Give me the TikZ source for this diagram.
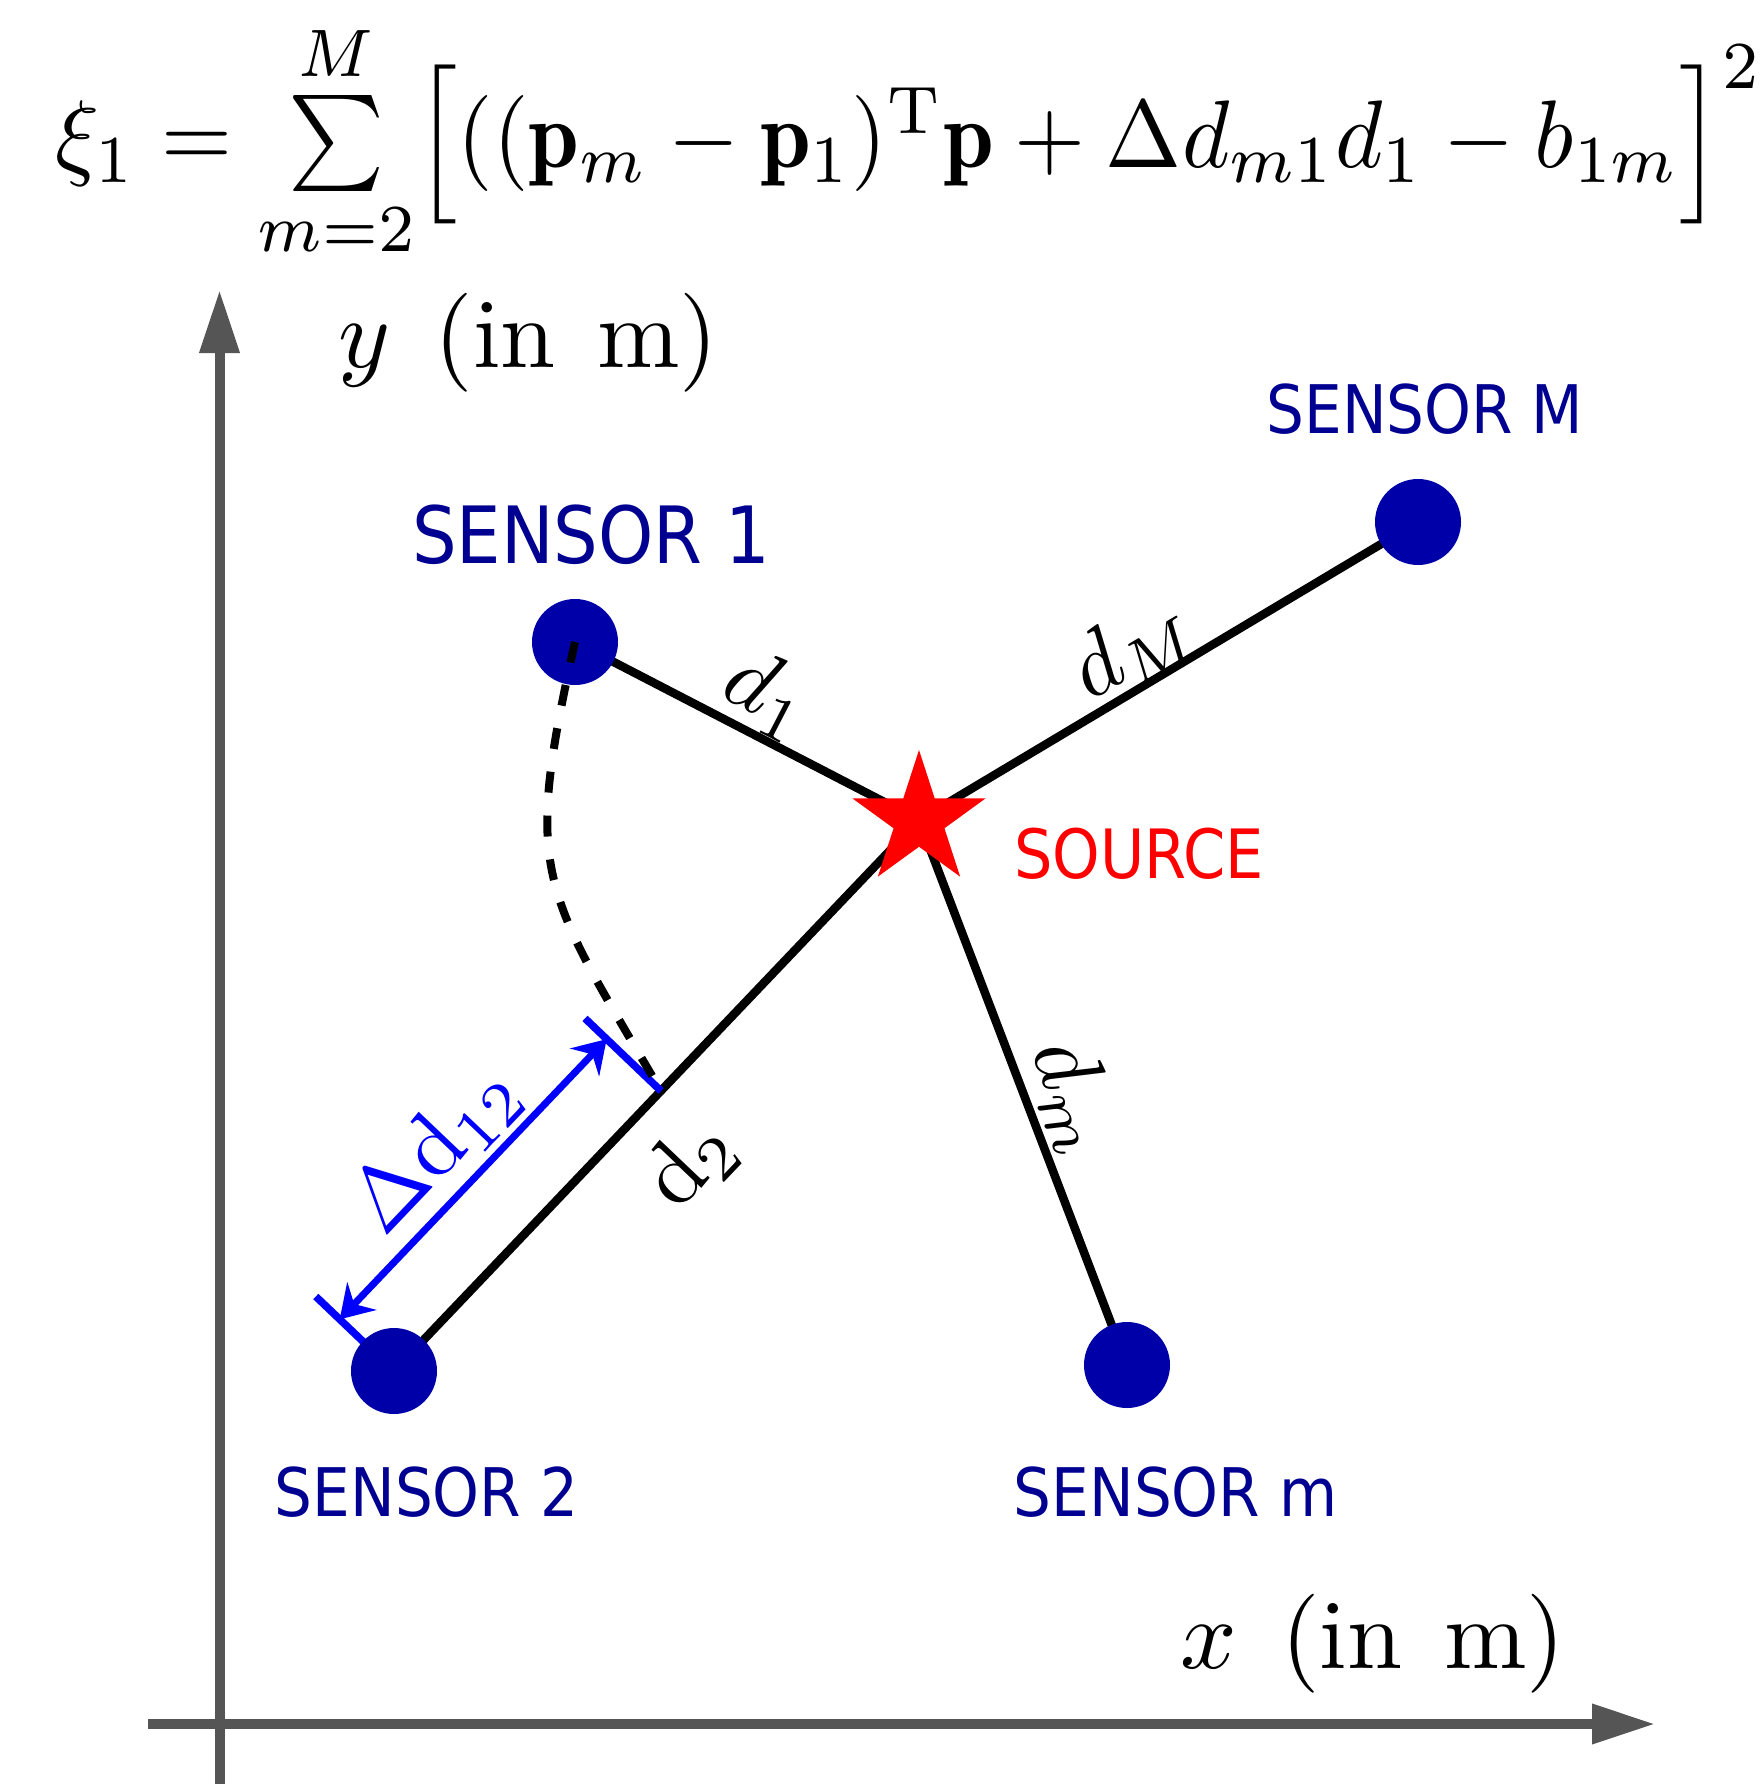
\documentclass[tikz,border=0pt]{standalone}
\usepackage{amsmath}
\usepackage{graphicx}
\usepackage{fontspec}
\newfontfamily\labfont[FakeStretch=0.89]{DejaVu Sans}
\usetikzlibrary{arrows.meta,shapes.geometric,backgrounds}
\definecolor{dotblue}{RGB}{0,0,168}
\definecolor{txtblue}{RGB}{0,0,145}
\definecolor{axisgray}{RGB}{85,85,85}
\definecolor{dimblue}{RGB}{0,0,255}
\newcommand{\bigmath}[2]{\scalebox{#1}{#2}}
\newcommand{\lbrk}{\mathopen{\vcenter{\hbox{\scalebox{1}[0.92]{$\Bigl[$}}}}}
\newcommand{\rbrk}{\mathclose{\vcenter{\hbox{\scalebox{1}[0.92]{$\Bigr]$}}}}}
\tikzset{
  sensor/.style={circle, fill=dotblue, minimum size=86pt, inner sep=0pt},
  sensorlabel/.style={text=txtblue, font=\labfont\fontsize{67}{80}\selectfont, inner sep=0pt, anchor=base},
  link/.style={line width=8.5pt, black},
  axisline/.style={line width=10pt, axisgray, -{Triangle[length=63pt,width=38pt]}},
  distlabel/.style={font=\fontsize{10}{12}\selectfont, inner sep=0pt},
  arcline/.style={line width=8pt, black, dash pattern=on 21pt off 23pt},
  dimtick/.style={line width=7.5pt, dimblue},
  dimarrow/.style={line width=7pt, dimblue, {Stealth[length=32pt,width=40pt,inset=11pt]}-{Stealth[length=32pt,width=40pt,inset=11pt]}},
}
\begin{document}
\begin{tikzpicture}[x=1pt,y=-1pt]
\useasboundingbox (0,0) rectangle (1762,1784);
% formula
\node[anchor=base west, inner sep=0pt, font=\fontsize{10}{12}\selectfont] (eq) at (55,168)
  {\scalebox{9.12}[9.6]{$\xi_1 = \sum\limits_{m=2}^{M} \lbrk((\mathbf{p}_m - \mathbf{p}_1)^{\mathrm{T}}\mathbf{p} + \Delta d_{m1} d_1 - b_{1m}\rbrk^2$}};
% axes
\coordinate (yb) at (219.5,1784);
\coordinate (yt) at (219.5,290);
\coordinate (xl) at (148,1724);
\coordinate (xr) at (1655,1724);
\draw[axisline] (yb) -- (yt);
\draw[axisline] (xl) -- (xr);
\node[anchor=base west, inner sep=0pt, font=\fontsize{10}{12}\selectfont] (ylab) at (338,367) {\bigmath{9.9}{$y$\hspace{0.45em}(in\hspace{0.42em}m)}};
\node[anchor=base west, inner sep=0pt, font=\fontsize{10}{12}\selectfont] (xlab) at (1180,1668) {\bigmath{9.9}{$x$\hspace{0.45em}(in\hspace{0.42em}m)}};
% sensors and source
\node[sensor] (s1) at (575,642) {};
\node[sensor] (sM) at (1418,522) {};
\node[sensor] (s2) at (394,1371) {};
\node[sensor] (sm) at (1127,1365) {};
\node[star, star points=5, star point ratio=2.618, minimum size=140pt, inner sep=0pt, fill=red] (src) at (919,820) {};
% dimension coordinates
\coordinate (t1) at (661,1091);
\coordinate (t1e) at (585,1018.4);
\coordinate (t2e) at (315.8,1296.5);
\coordinate (a1) at (606.7,1039.1);
\coordinate (a2) at (339.7,1319.3);
\begin{scope}[on background layer]
  \draw[link] (s1.center) -- (src.center);
  \draw[link] (sM.center) -- (src.center);
  \draw[link] (s2.center) -- (src.center);
  \draw[link] (sm.center) -- (src.center);
  \draw[dimtick] (t1) -- (t1e);
  \draw[dimtick] (s2.center) -- (t2e);
\end{scope}
\draw[dimarrow] (a2) -- (a1);
\draw[arcline] (s1.center) .. controls (523,875) and (540,885) .. (t1);
% labels
\node[sensorlabel, font=\labfont\fontsize{79}{90}\selectfont] (L1) at (591,563) {SENSOR 1};
\node[sensorlabel] (LM) at (1425,433) {SENSOR M};
\node[sensorlabel] (L2) at (426.5,1516) {SENSOR 2};
\node[sensorlabel] (Lm) at (1175.6,1516) {SENSOR m};
\node[sensorlabel, text=red, font=\labfont\fontsize{68}{80}\selectfont] (Ls) at (1139,878) {SOURCE};
\node[distlabel, rotate=-27.4] (l1) at (768,694) {\bigmath{9}{$d_1$}};
\node[distlabel, rotate=30.8] (lM) at (1132,648) {\bigmath{9}{$d_M$}};
\node[distlabel, rotate=46.4] (l2) at (691,1163) {\bigmath{9}{$\mathrm{d}_2$}};
\node[distlabel, rotate=-69.1] (lm) at (1075,1097) {\bigmath{9}{$d_m$}};
\node[distlabel, rotate=46.4, text=dimblue] (ld) at (436,1149) {\bigmath{9}{$\Delta\mathrm{d}_{12}$}};
\end{tikzpicture}
\end{document}
